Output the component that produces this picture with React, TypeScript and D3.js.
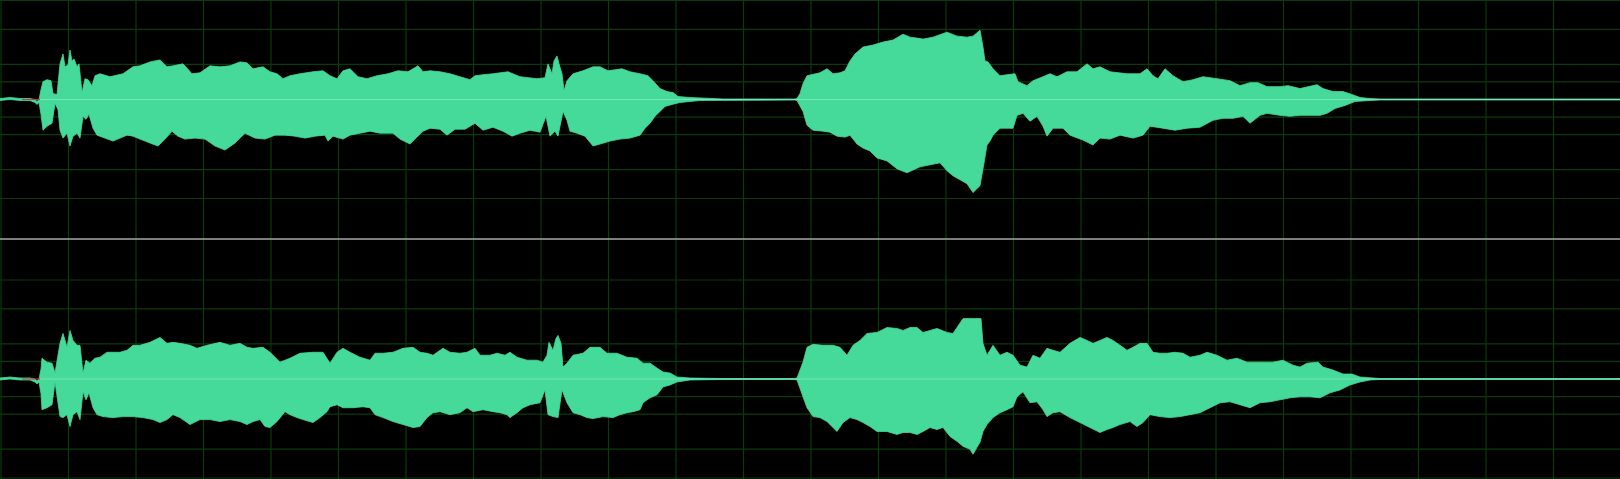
import React from 'react';
import * as d3 from 'd3';

// waveform summary: [block, peak % of full scale]
const leftTop: [number, number][] = [[0,1],[10,2],[20,1],[30,1],[35,0],[37,-2],[39,0],[41,10],[43,18],[47,20],[51,19],[53,6],[57,5],[60,36],[63,46],[65,33],[68,35],[70,50],[72,39],[74,41],[77,33],[79,36],[82,7],[85,21],[88,20],[92,14],[95,24],[100,26],[110,23],[123,26],[133,33],[140,34],[150,38],[160,40],[167,33],[173,34],[183,36],[192,26],[200,27],[210,34],[220,33],[230,34],[240,38],[247,37],[253,31],[263,33],[270,28],[277,26],[283,21],[290,24],[300,26],[313,28],[323,29],[330,24],[337,21],[343,29],[350,31],[358,23],[367,21],[377,24],[388,26],[398,29],[408,28],[418,34],[423,28],[430,29],[440,28],[450,26],[460,23],[470,20],[475,24],[483,25],[493,26],[508,28],[520,23],[537,21],[545,22],[548,36],[552,26],[554,39],[557,44],[559,36],[562,26],[564,9],[567,19],[573,26],[583,29],[593,33],[600,33],[608,29],[622,31],[630,28],[640,26],[648,24],[653,19],[660,11],[667,8],[673,7],[678,3],[690,2],[713,1],[723,0.5],[795,0.5],[797,1],[800,6],[803,16],[807,24],[820,27],[827,31],[833,26],[840,27],[845,29],[850,39],[855,46],[863,53],[873,55],[883,58],[893,60],[903,66],[910,63],[917,62],[923,61],[933,63],[947,68],[957,64],[967,63],[973,64],[980,70],[983,53],[985,39],[988,38],[993,31],[1000,24],[1007,25],[1015,26],[1018,18],[1027,14],[1033,19],[1043,23],[1050,26],[1057,23],[1067,28],[1077,28],[1087,36],[1093,31],[1100,33],[1110,28],[1127,26],[1140,26],[1147,31],[1153,24],[1158,21],[1165,31],[1173,24],[1183,18],[1193,20],[1203,23],[1217,21],[1230,19],[1240,14],[1250,17],[1258,17],[1267,13],[1280,13],[1288,14],[1300,11],[1317,15],[1323,11],[1333,8],[1343,8],[1352,5],[1360,2],[1370,1],[1380,0.5],[1620,0.5]];

const leftBottom: [number, number][] = [[0,-1],[10,0],[20,-1],[30,-1],[35,-3],[37,-5],[39,-3],[41,-15],[43,-31],[47,-27],[52,-24],[55,-4],[58,-10],[60,-31],[63,-39],[67,-34],[70,-47],[73,-37],[77,-34],[80,-39],[83,-17],[86,-20],[89,-15],[93,-29],[97,-36],[105,-39],[113,-42],[120,-39],[127,-36],[133,-37],[140,-40],[150,-44],[158,-47],[165,-40],[172,-32],[178,-37],[185,-40],[195,-39],[205,-40],[215,-47],[225,-51],[235,-44],[245,-34],[255,-39],[265,-40],[275,-36],[285,-36],[295,-37],[305,-39],[315,-37],[325,-36],[328,-42],[333,-37],[343,-40],[350,-36],[360,-34],[370,-32],[380,-34],[393,-34],[400,-40],[410,-45],[415,-40],[423,-32],[430,-29],[440,-30],[447,-36],[455,-30],[465,-30],[475,-24],[483,-31],[493,-28],[503,-32],[512,-37],[520,-34],[530,-31],[540,-33],[546,-17],[550,-37],[555,-32],[558,-37],[563,-12],[567,-21],[570,-32],[577,-34],[585,-37],[593,-47],[600,-45],[610,-42],[620,-40],[630,-39],[640,-36],[645,-29],[650,-24],[655,-17],[660,-12],[665,-7],[672,-5],[680,-3],[690,-2],[700,-1],[795,-0.5],[797,-1],[803,-12],[807,-26],[813,-31],[823,-32],[830,-33],[837,-37],[845,-38],[850,-36],[857,-45],[863,-49],[870,-52],[877,-59],[887,-62],[897,-70],[907,-74],[920,-68],[930,-66],[940,-64],[947,-72],[953,-77],[960,-81],[967,-85],[973,-94],[980,-87],[983,-70],[987,-46],[990,-42],[993,-36],[1000,-29],[1013,-29],[1017,-16],[1023,-14],[1030,-22],[1037,-17],[1043,-27],[1047,-37],[1053,-29],[1063,-29],[1070,-36],[1083,-41],[1093,-46],[1100,-39],[1110,-40],[1120,-36],[1133,-39],[1143,-36],[1150,-27],[1163,-29],[1175,-31],[1187,-29],[1200,-28],[1213,-21],[1223,-19],[1233,-19],[1243,-17],[1250,-24],[1260,-16],[1267,-14],[1280,-16],[1290,-17],[1300,-16],[1310,-16],[1320,-16],[1327,-14],[1335,-9],[1345,-6],[1355,-2],[1370,-1],[1380,-0.5],[1620,-0.5]];

const rightTop: [number, number][] = [[0,1],[10,2],[20,1],[30,1],[35,0],[37,-2],[39,0],[41,10],[42,21],[47,17],[52,16],[55,6],[60,36],[63,46],[67,32],[70,49],[73,39],[77,34],[80,34],[83,6],[86,19],[90,16],[95,21],[100,22],[107,27],[113,27],[120,27],[127,29],[133,34],[140,34],[150,37],[160,42],[167,36],[173,37],[180,36],[190,34],[197,31],[207,34],[220,37],[230,34],[240,36],[247,32],[253,31],[263,32],[270,27],[280,17],[290,21],[300,26],[313,27],[323,27],[330,16],[337,27],[343,31],[350,27],[360,22],[370,19],[375,26],[383,26],[393,27],[403,31],[413,32],[420,27],[427,26],[433,24],[443,31],[450,27],[460,26],[467,27],[475,31],[480,24],[490,24],[497,26],[505,24],[510,27],[517,22],[527,19],[537,19],[543,17],[547,24],[549,37],[553,29],[556,41],[558,44],[561,36],[563,12],[567,16],[573,24],[583,26],[590,32],[600,32],[607,26],[617,26],[627,22],[637,21],[643,16],[650,16],[657,11],[663,7],[670,6],[677,2],[690,1],[720,0.5],[795,0.5],[797,1],[803,17],[807,32],[813,35],[823,34],[833,34],[840,32],[847,24],[853,34],[860,39],[867,46],[877,47],[887,52],[897,51],[903,49],[910,52],[917,52],[923,47],[930,49],[937,51],[947,47],[953,46],[957,52],[963,61],[970,61],[977,61],[981,61],[983,36],[987,24],[993,34],[1000,24],[1007,27],[1013,24],[1020,14],[1027,12],[1033,24],[1040,21],[1047,31],[1053,29],[1060,27],[1070,36],[1080,42],[1087,39],[1093,36],[1100,39],[1107,42],[1113,39],[1120,34],[1127,29],[1133,32],[1140,36],[1147,36],[1153,27],[1160,26],[1167,26],[1175,27],[1183,26],[1190,22],[1200,24],[1207,27],[1217,24],[1227,19],[1237,21],[1247,17],[1260,17],[1273,17],[1283,19],[1293,14],[1300,12],[1307,16],[1318,17],[1323,12],[1333,9],[1343,5],[1352,5],[1360,2],[1373,1],[1380,0.5],[1620,0.5]];

const rightBottom: [number, number][] = [[0,-1],[10,0],[20,-1],[30,-1],[35,-3],[37,-5],[39,-3],[41,-15],[42,-31],[47,-29],[52,-26],[55,-3],[60,-38],[63,-39],[67,-36],[70,-48],[73,-36],[77,-33],[80,-41],[83,-13],[86,-21],[89,-14],[93,-29],[97,-36],[103,-38],[113,-39],[123,-38],[133,-38],[143,-39],[153,-41],[160,-44],[167,-41],[173,-36],[180,-39],[190,-46],[200,-41],[210,-41],[220,-43],[230,-41],[240,-43],[247,-46],[253,-43],[260,-41],[265,-48],[270,-49],[277,-43],[285,-33],[290,-36],[297,-39],[303,-41],[313,-44],[320,-39],[327,-33],[330,-28],[337,-26],[343,-29],[353,-29],[363,-28],[370,-29],[375,-36],[383,-39],[393,-43],[403,-46],[413,-49],[420,-48],[427,-39],[433,-34],[440,-33],[450,-36],[460,-34],[467,-29],[473,-33],[483,-31],[493,-33],[500,-34],[507,-36],[510,-39],[517,-34],[523,-29],[530,-26],[540,-24],[545,-11],[548,-36],[553,-38],[558,-39],[562,-11],[567,-24],[573,-34],[580,-36],[587,-39],[593,-40],[603,-38],[613,-39],[620,-36],[627,-34],[633,-33],[640,-31],[643,-24],[650,-19],[657,-16],[663,-8],[670,-6],[677,-3],[690,-1],[720,-0.5],[795,-0.5],[797,-1],[803,-18],[807,-29],[813,-38],[820,-39],[827,-43],[833,-49],[837,-53],[843,-44],[850,-39],[857,-41],[863,-44],[870,-48],[877,-53],[887,-53],[897,-56],[903,-54],[910,-54],[917,-56],[923,-53],[930,-49],[937,-51],[943,-49],[950,-58],[957,-63],[963,-68],[970,-71],[973,-76],[977,-69],[980,-64],[983,-53],[987,-46],[993,-39],[1000,-34],[1007,-31],[1013,-28],[1017,-18],[1023,-13],[1030,-24],[1037,-23],[1043,-31],[1047,-38],[1053,-34],[1060,-33],[1070,-39],[1080,-44],[1090,-49],[1100,-54],[1107,-51],[1113,-49],[1120,-46],[1130,-43],[1137,-48],[1143,-44],[1150,-36],[1160,-38],[1170,-39],[1180,-38],[1190,-36],[1200,-34],[1210,-29],[1220,-24],[1230,-23],[1240,-26],[1250,-29],[1260,-24],[1270,-23],[1280,-21],[1290,-19],[1300,-18],[1310,-18],[1320,-19],[1330,-14],[1340,-11],[1350,-6],[1360,-3],[1370,-1],[1380,-0.5],[1620,-0.5]];

// dB grid, vertical divisions
const dbTicks = [0, -3, -9, -15];
const divisions = 24;
const clipMark = [22, 40];

const W = 1620;
const H = 479;

export default function App() {
  const x = d3.scaleLinear().domain([0, 1620]).range([0, W]);
  const channels = [
    { top: leftTop, bottom: leftBottom, y: d3.scaleLinear().domain([-100, 100]).range([198.5, 0.5]) },
    { top: rightTop, bottom: rightBottom, y: d3.scaleLinear().domain([-100, 100]).range([478, 280]) },
  ];
  const ampTicks = dbTicks.flatMap(d => {
    const a = Math.pow(10, d / 20) * 100;
    return [a, -a];
  });
  const step = W / divisions;
  const vLines = d3.range(divisions).map(i => 1 + i * step);

  return (
    <svg width={W} height={H} style={{ position: 'fixed', left: 0, top: 0, background: '#000', display: 'block' }}>
      <rect x={0} y={0} width={W} height={H} fill="#000" />
      <g stroke="#0b3a0b" strokeWidth={1.2}>
        {vLines.map((vx, i) => (
          <line key={'v' + i} x1={vx} x2={vx} y1={0} y2={H} />
        ))}
        {channels.map((c, ci) =>
          ampTicks.map((a, i) => (
            <line key={'h' + ci + '-' + i} x1={0} x2={W} y1={c.y(a)} y2={c.y(a)} />
          ))
        )}
      </g>
      <line x1={0} x2={W} y1={239} y2={239} stroke="#a8a8a8" strokeWidth={1.5} />
      {channels.map((c, ci) => {
        const line = d3.line<[number, number]>().x(d => x(d[0])).y(d => c.y(d[1]));
        const pts = [...c.top, ...c.bottom.slice().reverse()];
        return (
          <g key={'c' + ci}>
            <path d={(line(pts) || '') + 'Z'} fill="#45da9a" stroke="#45da9a" strokeWidth={0.8} />
            <line x1={x(40)} x2={W} y1={c.y(0)} y2={c.y(0)} stroke="#74e6b8" strokeWidth={1.2} />
            <line x1={x(clipMark[0])} x2={x(clipMark[1])} y1={c.y(0)} y2={c.y(0)} stroke="#c83a2e" strokeWidth={1} />
          </g>
        );
      })}
    </svg>
  );
}
